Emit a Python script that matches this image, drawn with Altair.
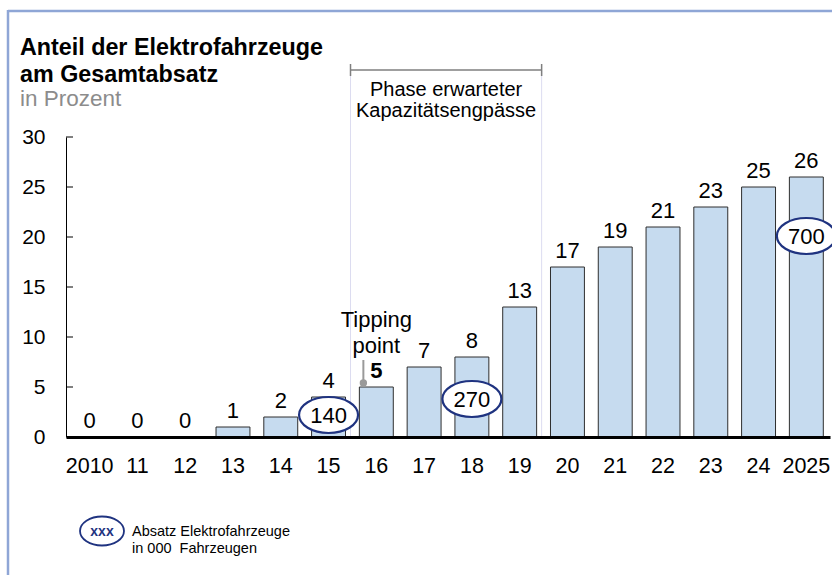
import altair as alt
import pandas as pd

# ---------------- data ----------------
years = ["2010", "11", "12", "13", "14", "15", "16", "17", "18", "19",
         "20", "21", "22", "23", "24", "2025"]
shares = [0, 0, 0, 1, 2, 4, 5, 7, 8, 13, 17, 19, 21, 23, 25, 26]

sales_years = ["15", "18", "2025"]
sales_labels = ["140", "270", "700"]
sales_anchor = [2.2, 3.8, 20.1]          # where the ellipse sits (in % units)

phase_bounds = ["15", "19"]
phase_text = ["Phase erwarteter", "Kapazitätsengpässe"]
tipping_text = ["Tipping", "point"]
tipping_year = "16"
y_ticks = [0, 5, 10, 15, 20, 25, 30]

FONT = "Liberation Sans"
NAVY = "#1f3380"
GAP = 5  # offset past the end of a bar, in px

PAD_IN, PAD_OUT, W = 0.29, 0.14, 764
STEP = W / (len(years) - PAD_IN + 2 * PAD_OUT)
BW = STEP * (1 - PAD_IN)

ELL = ("M-1,0 C-1,-0.337 -0.552,-0.61 0,-0.61 C0.552,-0.61 1,-0.337 1,0 "
       "C1,0.337 0.552,0.61 0,0.61 C-0.552,0.61 -1,0.337 -1,0 Z")
ELL2 = ("M-1,0 C-1,-0.3645 -0.552,-0.66 0,-0.66 C0.552,-0.66 1,-0.3645 1,0 "
        "C1,0.3645 0.552,0.66 0,0.66 C-0.552,0.66 -1,0.3645 -1,0 Z")

df = pd.DataFrame({"year": years, "share": shares})
xscale = alt.Scale(domain=years, paddingInner=PAD_IN, paddingOuter=PAD_OUT)
yscale = alt.Scale(domain=[0, 30], nice=False, zero=True)

XAX = alt.Axis(title=None, labelAngle=0, labelFontSize=21.5, labelColor="black",
               labelFont=FONT, labelPadding=35, labelBaseline="alphabetic",
               labelOverlap=False, ticks=False, tickSize=0,
               domainColor="black", domainWidth=3, zindex=1)
YAX = alt.Axis(title=None, values=y_ticks, labelFontSize=21, labelColor="black",
               labelFont=FONT, labelPadding=21, ticks=False, tickSize=0,
               domainColor="black", domainWidth=1, grid=False, zindex=1)


def X(field="year", bp=None):
    if bp is None:
        return alt.X(f"{field}:N", scale=xscale, axis=XAX)
    return alt.X(f"{field}:N", scale=xscale, axis=XAX, bandPosition=bp)


def Y(field):
    return alt.Y(f"{field}:Q", scale=yscale, axis=YAX)


one = pd.DataFrame({"a": [0]})

# ---------------- bars ----------------
bars = alt.Chart(df).mark_bar(fill="#c6dbef", stroke="#2e2e2e", strokeWidth=1).encode(
    x=X(), y=Y("share"))

tick_df = pd.DataFrame({"t": y_ticks[1:]})
inner_ticks = alt.Chart(tick_df).mark_rule(color="black", strokeWidth=1).encode(
    x=alt.value(0), x2=alt.value(7), y=Y("t"))

labels = alt.Chart(df).transform_filter(f"datum.year != '{tipping_year}'").mark_text(
    fontSize=22, dy=-9, baseline="alphabetic", font=FONT, color="black").encode(
    x=X(), y=Y("share"), text="share:Q")
label5 = alt.Chart(df).transform_filter(f"datum.year == '{tipping_year}'").mark_text(
    fontSize=22, dy=-9, baseline="alphabetic", font=FONT, color="black",
    fontWeight="bold").encode(x=X(), y=Y("share"), text="share:Q")

# ---------------- tipping point ----------------
tip_df = pd.DataFrame({"year": [tipping_year] * 2, "y": [11.0, 8.4], "t": tipping_text})
tip_text = alt.Chart(tip_df).mark_text(fontSize=22, baseline="alphabetic", font=FONT,
                                       color="black").encode(x=X(), y=Y("y"), text="t:N")
tip_line_df = pd.DataFrame({"year": [tipping_year], "y0": [5.4], "y1": [7.7]})
tip_line = alt.Chart(tip_line_df).mark_rule(color="#9a9a9a", strokeWidth=2).encode(
    x=X(bp=0), xOffset=alt.value(4), y=Y("y0"), y2="y1:Q")
tip_dot = alt.Chart(tip_line_df).mark_circle(color="#9a9a9a", size=55, opacity=1).encode(
    x=X(bp=0), xOffset=alt.value(4), y=Y("y0"))

# ---------------- phase bracket ----------------
ph_df = pd.DataFrame({"b": phase_bounds, "top": [36.7] * 2, "base": [0] * 2,
                      "t0": [37.3] * 2, "t1": [36.1] * 2})
OFF = BW + GAP
ph_lines = alt.Chart(ph_df).mark_rule(color="#dcdcf0", strokeWidth=1).encode(
    x=X("b", 0), xOffset=alt.value(OFF), y=Y("top"), y2="base:Q")
ph_bracket = alt.Chart(ph_df).mark_line(color="#7f7f7f", strokeWidth=1.5).encode(
    x=X("b", 0), xOffset=alt.value(OFF), y=Y("top"))
ph_ends = alt.Chart(ph_df).mark_rule(color="#7f7f7f", strokeWidth=1.5).encode(
    x=X("b", 0), xOffset=alt.value(OFF), y=Y("t0"), y2="t1:Q")
ph_text_df = pd.DataFrame({"year": ["17", "17"], "y": [34.1, 32.0], "t": phase_text})
ph_text = alt.Chart(ph_text_df).mark_text(fontSize=20, baseline="alphabetic", font=FONT,
                                          color="black", dx=GAP).encode(
    x=X("year", 1), y=Y("y"), text="t:N")

# ---------------- sales ellipses ----------------
s_df = pd.DataFrame({"year": sales_years, "y": sales_anchor, "t": sales_labels})
ellipses = alt.Chart(s_df).mark_point(shape=ELL, size=3481, filled=True, fill="white",
                                      stroke=NAVY, strokeWidth=2.2, opacity=1).encode(
    x=X(), y=Y("y"))
ell_text = alt.Chart(s_df).mark_text(fontSize=22, baseline="middle", dy=1, font=FONT,
                                     color="black").encode(x=X(), y=Y("y"), text="t:N")

# ---------------- title ----------------
def txt(s, x, y, size, weight="normal", color="black"):
    return alt.Chart(one).mark_text(text=s, align="left", baseline="alphabetic",
                                    fontSize=size, fontWeight=weight, color=color,
                                    font=FONT).encode(x=alt.value(x), y=alt.value(y))

t1 = txt("Anteil der Elektrofahrzeuge", -46, -82, 23.3, "bold")
t2 = txt("am Gesamtabsatz", -46, -55.5, 23.3, "bold")
t3 = txt("in Prozent", -46, -31, 22.5, color="#8c8c8c")

# ---------------- legend ----------------
leg_ell = alt.Chart(one).mark_point(shape=ELL2, size=1936, filled=True, fill="white",
                                    stroke=NAVY, strokeWidth=1.8, opacity=1).encode(
    x=alt.value(36), y=alt.value(394))
leg_xxx = alt.Chart(one).mark_text(text="xxx", fontSize=14, fontWeight="bold", color=NAVY,
                                   baseline="middle", font=FONT).encode(
    x=alt.value(36), y=alt.value(395))
leg1 = txt("Absatz Elektrofahrzeuge", 66, 399, 14.5)
leg2 = txt("in 000\u00a0 Fahrzeugen", 66, 416, 14.5)

# ---------------- frame ----------------
frame_top = alt.Chart(one).mark_rule(color="#8fa6d6", strokeWidth=2.5).encode(
    x=alt.value(-58), x2=alt.value(770), y=alt.value(-126))
frame_left = alt.Chart(one).mark_rule(color="#8fa6d6", strokeWidth=2.5).encode(
    x=alt.value(-58), y=alt.value(-127), y2=alt.value(440))

chart = alt.layer(
    bars, ph_lines, inner_ticks, labels, label5, tip_line, tip_dot, tip_text,
    ph_bracket, ph_ends, ph_text, ellipses, ell_text,
    t1, t2, t3, leg_ell, leg_xxx, leg1, leg2, frame_top, frame_left,
).properties(
    width=W, height=300,
    padding={"left": 66, "top": 137, "right": 2, "bottom": 138},
    autosize=alt.AutoSizeParams(type="none"),
    background="white",
).configure_view(stroke="transparent")

chart.save("out.html", embed_options={"renderer": "svg", "actions": False})
